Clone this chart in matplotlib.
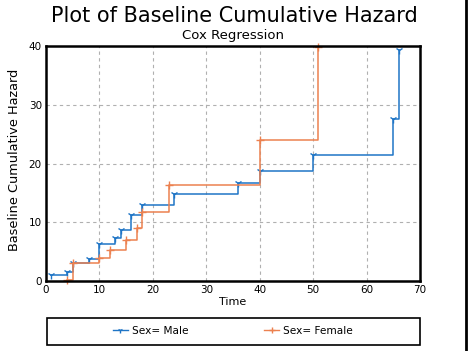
import matplotlib
matplotlib.use("Agg")
import matplotlib.pyplot as plt
from matplotlib.lines import Line2D
from matplotlib.patches import Rectangle

plt.rcParams['font.family'] = ['DejaVu Sans']

male_time = [1, 4, 5, 8, 10, 13, 14, 16, 18, 24, 36, 40, 50, 65, 66]
male_hazard = [1.0, 1.6, 3.1, 3.7, 6.3, 7.3, 8.6, 11.3, 13.0, 14.8, 16.7, 18.8, 21.5, 27.5, 39.3]
female_time = [4, 5, 10, 12, 15, 17, 18, 23, 40, 51]
female_hazard = [0.2, 3.0, 4.0, 5.2, 7.0, 9.0, 11.8, 16.3, 24.0, 39.9]
labels = ["Sex= Male", "Sex= Female"]
xticks = [0, 10, 20, 30, 40, 50, 60, 70]
yticks = [0, 10, 20, 30, 40]

blue = '#1f75c6'
orange = '#ec8150'

fig = plt.figure(figsize=(4.68, 3.51), dpi=100)
ax = fig.add_axes([46/468, 1-281/351, (420-46)/468, (281-46)/351])

ax.step(male_time, male_hazard, where='post', color=blue, lw=1.1, clip_on=False)
ax.plot(male_time, male_hazard, ls='none', marker='1', ms=6, mew=1.0, color=blue, clip_on=False)
ax.step(female_time, female_hazard, where='post', color=orange, lw=1.1)
ax.plot(female_time, female_hazard, ls='none', marker='+', ms=6, mew=1.0, color=orange, clip_on=False)

ax.set_xlim(0, 70)
ax.set_ylim(0, 40)
ax.set_xticks(xticks)
ax.set_yticks(yticks)
ax.grid(True, ls=(0, (3, 3)), color='#b0b0b0', lw=0.8)
for s in ax.spines.values():
    s.set_linewidth(1.8)
    s.set_color('black')
ax.tick_params(length=0, labelsize=7.5, pad=3)
ax.set_xlabel("Time", fontsize=8, labelpad=1)
ax.set_ylabel("Baseline Cumulative Hazard", fontsize=9.3)
ax.yaxis.set_label_coords((21 - 46) / 374, (281 - 160) / 235)

fig.text(234/468, 1-16/351, "Plot of Baseline Cumulative Hazard", ha='center', va='center', fontsize=15)
fig.text(233/468, 1-36/351, "Cox Regression", ha='center', va='center', fontsize=9.5)

fig.add_artist(Rectangle((47/468, 1-345/351), (420-47)/468, 27/351, transform=fig.transFigure,
                         fill=False, edgecolor='black', lw=1.2))

handles = [Line2D([], [], color=blue, lw=1.0, marker='1', ms=4, markevery=[1]),
           Line2D([], [], color=orange, lw=1.0, marker='+', ms=4, markevery=[1])]
leg = fig.legend(handles, labels, loc='center', ncol=2, fontsize=7.6,
                 bbox_to_anchor=(233/468, 1-331/351), frameon=False,
                 handlelength=1.4, handletextpad=0.4, columnspacing=7.2)

fig.add_artist(Line2D([466/468, 466/468], [0, 1], color='black', lw=2, transform=fig.transFigure))

fig.savefig("out.png", dpi=100)
